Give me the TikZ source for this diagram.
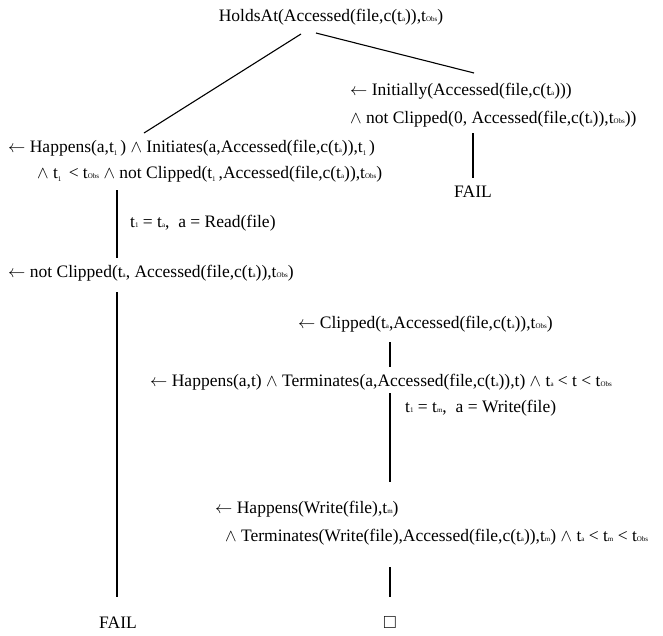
\documentclass[tikz,border=0pt]{standalone}
\usepackage{amssymb}
\usepackage{fontspec}
\setmainfont{Liberation Serif}
\usetikzlibrary{positioning}
\newcommand{\lo}[1]{{\fontsize{7}{7}\selectfont #1}}
\newcommand{\lone}{\raisebox{-3pt}{\fontsize{7}{7}\selectfont 1}\,}

\begin{document}
\begin{tikzpicture}[x=1pt, y=-1pt, font=\fontsize{17.5}{21}\selectfont,
  g/.style={anchor=base west, inner sep=0pt},
  edge/.style={line width=1.1pt}]
\useasboundingbox (0,0) rectangle (663,635);
% goals
\node[anchor=base, inner sep=0pt] (root) at (331,21) {HoldsAt(Accessed(file,c(t\lo{a})),t\lo{Obs})};
\node[g] (initA) at (350,95) {$\leftarrow$ Initially(Accessed(file,c(t\lo{a})))};
\node[g] (initB) at (350,123) {$\wedge$ not Clipped(0, Accessed(file,c(t\lo{a})),t\lo{Obs}))};
\node[anchor=base, inner sep=0pt] (failR) at (473,197) {FAIL};
\node[g] (hapA) at (8,152) {$\leftarrow$ Happens(a,t\lone) $\wedge$ Initiates(a,Accessed(file,c(t\lo{a})),t\lone)};
\node[g] (hapB) at (37,178) {$\wedge$ t\lone{} < t\lo{Obs} $\wedge$ not Clipped(t\lone,Accessed(file,c(t\lo{a})),t\lo{Obs})};
\node[g] (readlbl) at (130,227) {t\lo{1} = t\lo{a}, \ a = Read(file)};
\node[g] (clipN) at (8,277) {$\leftarrow$ not Clipped(t\lo{a}, Accessed(file,c(t\lo{a})),t\lo{Obs})};
\node[g] (clipP) at (298,328) {$\leftarrow$ Clipped(t\lo{a},Accessed(file,c(t\lo{a})),t\lo{Obs})};
\node[g] (hapT) at (150,386) {$\leftarrow$ Happens(a,t) $\wedge$ Terminates(a,Accessed(file,c(t\lo{a})),t) $\wedge$ t\lo{a} < t < t\lo{Obs}};
\node[g] (writelbl) at (405,412) {t\lo{1} = t\lo{m}, \ a = Write(file)};
\node[g] (hapW) at (215,513) {$\leftarrow$ Happens(Write(file),t\lo{m})};
\node[g] (termW) at (225,541) {$\wedge$ Terminates(Write(file),Accessed(file,c(t\lo{a})),t\lo{m}) $\wedge$ t\lo{a} < t\lo{m} < t\lo{Obs}};
\node[anchor=base, inner sep=0pt] (failL) at (118,628) {FAIL};
\node[anchor=base, inner sep=0pt] (done) at (390,628) {$\square$};
% branch ends
\coordinate (rL) at (301,34);  \coordinate (aL) at (144,133);
\coordinate (rR) at (316,33);  \coordinate (aR) at (474,73);
\coordinate (i1) at (473,133); \coordinate (i2) at (473,178);
\coordinate (h1) at (117,190); \coordinate (h2) at (117,258);
\coordinate (c1) at (117,292); \coordinate (c2) at (117,597);
\coordinate (p1) at (390,342); \coordinate (p2) at (390,367);
\coordinate (t1) at (390,393); \coordinate (t2) at (390,482);
\coordinate (w1) at (390,567); \coordinate (w2) at (390,597);
\foreach \a/\b in {rL/aL, rR/aR, i1/i2, h1/h2, c1/c2, p1/p2, t1/t2, w1/w2}
  \draw[edge] (\a) -- (\b);
\end{tikzpicture}
\end{document}
